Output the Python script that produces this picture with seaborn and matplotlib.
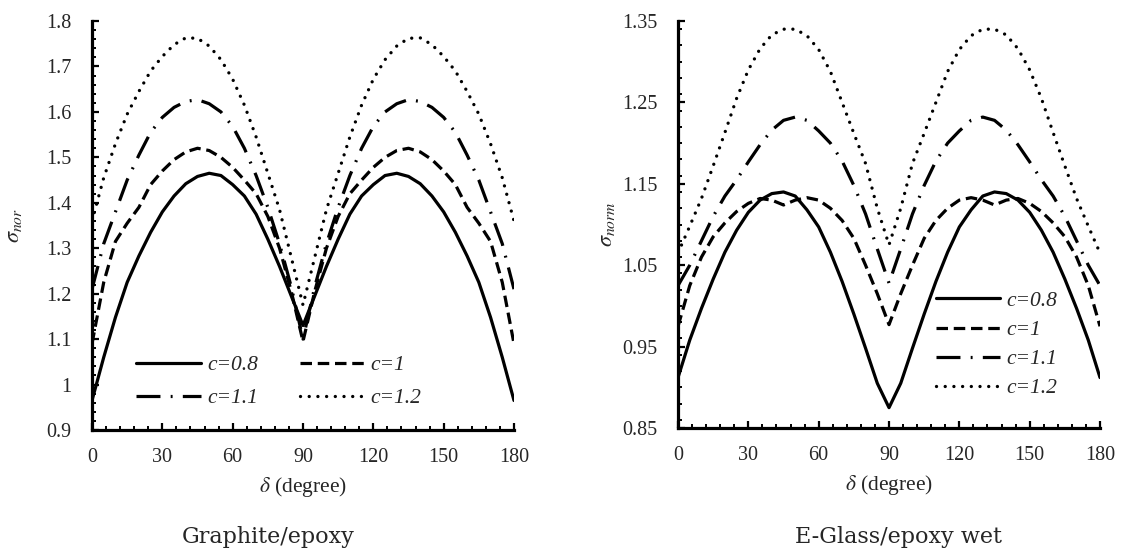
import numpy as np
import pandas as pd
import seaborn as sns
import matplotlib.pyplot as plt
from matplotlib.ticker import MultipleLocator, FuncFormatter

# angle delta (degree)
delta = list(range(0, 181, 5))

# Graphite/epoxy
gr_c08 = [0.965, 1.06, 1.148, 1.225, 1.283, 1.335, 1.38, 1.415, 1.442, 1.458, 1.465, 1.46, 1.44, 1.415, 1.375, 1.32, 1.26, 1.195,
          1.13,
          1.195, 1.26, 1.32, 1.375, 1.415, 1.44, 1.46, 1.465, 1.458, 1.442, 1.415, 1.38, 1.335, 1.283, 1.225, 1.148, 1.06, 0.965]
gr_c10 = [1.09, 1.225, 1.315, 1.355, 1.39, 1.44, 1.47, 1.495, 1.512, 1.52, 1.515, 1.50, 1.478, 1.45, 1.42, 1.37, 1.30, 1.205,
          1.095,
          1.205, 1.30, 1.37, 1.42, 1.45, 1.478, 1.50, 1.515, 1.52, 1.512, 1.495, 1.47, 1.44, 1.39, 1.355, 1.315, 1.225, 1.09]
gr_c11 = [1.21, 1.31, 1.38, 1.45, 1.505, 1.555, 1.588, 1.61, 1.623, 1.627, 1.618, 1.60, 1.568, 1.52, 1.46, 1.39, 1.31, 1.215,
          1.10,
          1.215, 1.31, 1.39, 1.46, 1.52, 1.568, 1.60, 1.618, 1.627, 1.623, 1.61, 1.588, 1.555, 1.505, 1.45, 1.38, 1.31, 1.21]
gr_c12 = [1.36, 1.455, 1.53, 1.595, 1.645, 1.69, 1.722, 1.748, 1.763, 1.762, 1.745, 1.715, 1.672, 1.615, 1.545, 1.465, 1.385, 1.28,
          1.175,
          1.28, 1.385, 1.465, 1.545, 1.615, 1.672, 1.715, 1.745, 1.762, 1.763, 1.748, 1.722, 1.69, 1.645, 1.595, 1.53, 1.455, 1.36]

# E-Glass/epoxy wet
eg_c08 = [0.912, 0.958, 0.997, 1.033, 1.066, 1.093, 1.115, 1.13, 1.138, 1.14, 1.135, 1.118, 1.097, 1.066, 1.03, 0.99, 0.948, 0.905,
          0.875,
          0.905, 0.948, 0.99, 1.03, 1.066, 1.097, 1.118, 1.135, 1.14, 1.138, 1.13, 1.115, 1.093, 1.066, 1.033, 0.997, 0.958, 0.912]
eg_c10 = [0.975, 1.025, 1.06, 1.085, 1.102, 1.116, 1.126, 1.132, 1.13, 1.124, 1.13, 1.133, 1.13, 1.12, 1.105, 1.083, 1.05, 1.015,
          0.977,
          1.015, 1.05, 1.083, 1.105, 1.12, 1.13, 1.133, 1.13, 1.124, 1.13, 1.132, 1.126, 1.116, 1.102, 1.085, 1.06, 1.025, 0.975]
eg_c11 = [1.025, 1.05, 1.08, 1.11, 1.135, 1.155, 1.177, 1.198, 1.216, 1.228, 1.232, 1.228, 1.215, 1.2, 1.178, 1.148, 1.113, 1.07,
          1.028,
          1.07, 1.113, 1.148, 1.178, 1.2, 1.215, 1.228, 1.232, 1.228, 1.216, 1.198, 1.177, 1.155, 1.135, 1.11, 1.08, 1.05, 1.025]
eg_c12 = [1.065, 1.098, 1.132, 1.172, 1.213, 1.255, 1.29, 1.316, 1.333, 1.34, 1.34, 1.332, 1.315, 1.288, 1.25, 1.212, 1.175, 1.12,
          1.075,
          1.12, 1.175, 1.212, 1.25, 1.288, 1.315, 1.332, 1.34, 1.34, 1.333, 1.316, 1.29, 1.255, 1.213, 1.172, 1.132, 1.098, 1.065]

labels = ['c=0.8', 'c=1', 'c=1.1', 'c=1.2']

sns.set_theme(style='ticks')
plt.rcParams['font.family'] = ['Liberation Serif', 'DejaVu Serif']
plt.rcParams['mathtext.fontset'] = 'stix'

# line styles: solid, dashed, dash-dot, dotted
styles = ['-', (0, (3.6, 1.8)), (0, (7.5, 3.2, 0.6, 3.2)), (0, (0.01, 2.6))]


def draw_panel(ax, series, ylim, ylabel, ylab_x):
    for vals, lab in zip(series, labels):
        df = pd.DataFrame({'delta': delta, 'sigma': vals})
        sns.lineplot(data=df, x='delta', y='sigma', ax=ax, color='black', linewidth=2.3, label=lab, legend=False)
    lines = ax.get_lines()
    for ln, st in zip(lines, styles):
        ln.set_linestyle(st)
    lines[3].set_dash_capstyle('round')
    lines[3].set_linewidth(2.4)

    ax.set_xlim(0, 180)
    ax.set_ylim(*ylim)
    ax.xaxis.set_major_locator(MultipleLocator(30))
    ax.xaxis.set_minor_locator(MultipleLocator(6))
    ax.yaxis.set_major_locator(MultipleLocator(0.1, offset=ylim[0] % 0.1))
    ax.yaxis.set_minor_locator(MultipleLocator(0.02))
    ax.yaxis.set_major_formatter(FuncFormatter(lambda v, p: f'{round(v, 3):g}'))
    ax.tick_params(which='major', direction='in', length=5, width=1.6, labelsize=14.5, color='black')
    ax.tick_params(axis='x', which='major', pad=13)
    ax.tick_params(axis='y', which='major', pad=15)
    ax.tick_params(which='minor', direction='in', length=3, width=1.4, color='black')
    for side in ['top', 'right']:
        ax.spines[side].set_visible(False)
    for side in ['left', 'bottom']:
        ax.spines[side].set_linewidth(2.3)
        ax.spines[side].set_color('black')
    ax.set_xlabel(r'$\delta$ (degree)', fontsize=15.5, labelpad=6)
    ax.set_ylabel(ylabel, fontsize=16)
    ax.yaxis.set_label_coords(ylab_x, 0.5)
    return lines


fig = plt.figure(figsize=(11.22, 5.52), dpi=100)
ax1 = fig.add_axes([0.082, 0.221, 0.3761, 0.7409])
ax2 = fig.add_axes([0.6043, 0.2246, 0.3761, 0.7373])

l1 = draw_panel(ax1, [gr_c08, gr_c10, gr_c11, gr_c12], (0.9, 1.8), r'$\sigma_{nor}$', -0.16)
l2 = draw_panel(ax2, [eg_c08, eg_c10, eg_c11, eg_c12], (0.85, 1.35), r'$\sigma_{norm}$', -0.145)
ax2.set_yticks([0.85, 0.95, 1.05, 1.15, 1.25, 1.35])
ax2.set_ylim(0.85, 1.35)

leg_font = {'family': 'Liberation Serif', 'style': 'italic', 'size': 15.5}
# two columns filled column-wise: row 1 = c=0.8, c=1 ; row 2 = c=1.1, c=1.2
order = [0, 2, 1, 3]
ax1.legend([l1[i] for i in order], [labels[i] for i in order], loc='center left',
           bbox_to_anchor=(0.105, 0.118), ncol=2, frameon=False,
           prop=leg_font, handlelength=3.0, handletextpad=0.28, columnspacing=1.95, labelspacing=0.6,
           borderpad=0, borderaxespad=0)
ax2.legend(l2, labels, loc='center left', bbox_to_anchor=(0.611, 0.205), ncol=1, frameon=False,
           prop=leg_font, handlelength=3.0, handletextpad=0.28, labelspacing=0.42,
           borderpad=0, borderaxespad=0)

fig.text(268 / 1122, 1 - 543 / 552, 'Graphite/epoxy', ha='center', va='baseline',
         fontsize=16, family='DejaVu Serif')
fig.text(898 / 1122, 1 - 543 / 552, 'E-Glass/epoxy wet', ha='center', va='baseline',
         fontsize=16, family='DejaVu Serif')

fig.savefig('out.png', dpi=100)
